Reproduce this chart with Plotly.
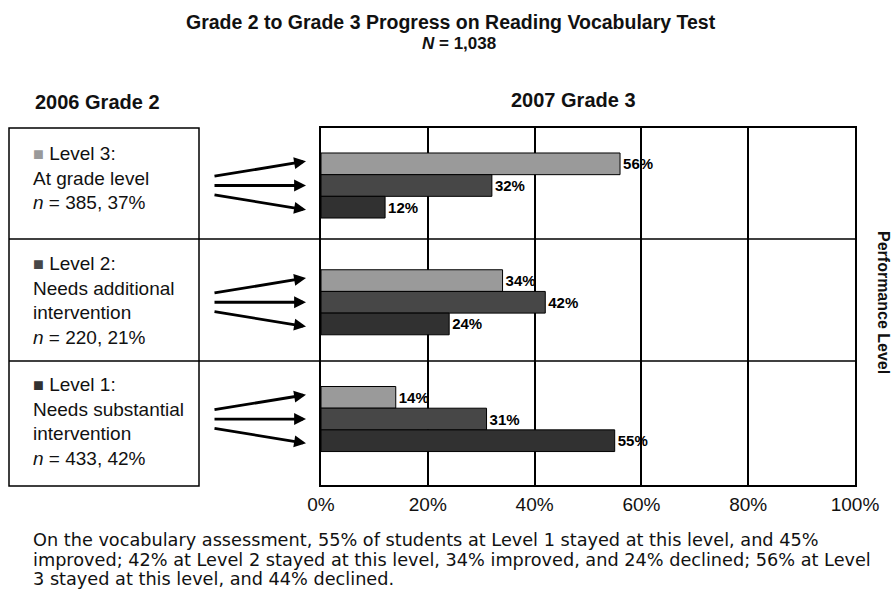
import plotly.graph_objects as go

# ---------------- data ----------------
origin_levels = ["Level 3", "Level 2", "Level 1"]          # 2006 Grade 2 level
dest_names = ["Level 3", "Level 2", "Level 1"]            # 2007 Grade 3 level
to_level3 = [56, 34, 14]
to_level2 = [32, 42, 31]
to_level1 = [12, 24, 55]
dest_values = [to_level3, to_level2, to_level1]

box_titles = ["Level 3:", "Level 2:", "Level 1:"]
box_desc = [["At grade level"], ["Needs additional", "intervention"], ["Needs substantial", "intervention"]]
box_counts = ["385, 37%", "220, 21%", "433, 42%"]

x_ticks = [0, 20, 40, 60, 80, 100]
x_tick_labels = ["0%", "20%", "40%", "60%", "80%", "100%"]

title_text = "Grade 2 to Grade 3 Progress on Reading Vocabulary Test"
subtitle_text = "<i>N</i> = 1,038"
left_header = "2006 Grade 2"
right_header = "2007 Grade 3"
side_label = "Performance Level"
caption_lines = [
    "On the vocabulary assessment, 55% of students at Level 1 stayed at this level, and 45%",
    "improved; 42% at Level 2 stayed at this level, 34% improved, and 24% declined; 56% at Level",
    "3 stayed at this level, and 44% declined.",
]

# ---------------- style ----------------
colors = ["#9a9a9a", "#474747", "#313131"]
FONT = "Liberation Sans, Arial, sans-serif"
CAP_FONT = "DejaVu Sans, Liberation Sans, sans-serif"
W, H = 895, 606
ML, MR, MT, MB = 321, 40, 128, 121
BARGAP = 0.443
Y_RANGE = [2.565, -0.4925]
PX_PER_UNIT = (H - MT - MB) / (Y_RANGE[0] - Y_RANGE[1])

def px_x(p):
    return (p - ML) / (W - ML - MR)

def px_y(p):
    return (H - MB - p) / (H - MT - MB)

fig = go.Figure()
for name, vals, col in zip(dest_names, dest_values, colors):
    fig.add_trace(go.Bar(
        y=origin_levels, x=vals, orientation="h", name=name,
        marker=dict(color=col, line=dict(color="black", width=1)),
        texttemplate="<b>%{x}%</b>", textposition="outside",
        textfont=dict(family=FONT, size=15, color="black"),
        cliponaxis=False,
    ))

# arrows from the left boxes to each bar
w = (1 - BARGAP) / 3
for i in range(len(origin_levels)):
    for j in range(len(dest_names)):
        fig.add_annotation(
            x=px_x(306), y=i + (j - 1) * w * 1.12, xref="paper", yref="y",
            ax=213 - 306, ay=(1 - j) * 0.7 * w * PX_PER_UNIT, axref="pixel", ayref="pixel",
            text="", showarrow=True, arrowhead=2, arrowsize=0.85,
            arrowwidth=2.8, arrowcolor="black",
        )

# left boxes
shapes = [
    dict(type="rect", xref="paper", yref="paper", x0=px_x(9), x1=px_x(199),
         y0=px_y(486), y1=px_y(128), line=dict(color="black", width=1.5)),
]
for yp in (239, 361):
    shapes.append(dict(type="line", xref="paper", yref="paper", x0=px_x(9), x1=1,
                       y0=px_y(yp), y1=px_y(yp), line=dict(color="black", width=1.5)))

box_centers = [177.5, 300, 421.5]
for k in range(3):
    lines = [f'<span style="color:{colors[k]};font-size:18px">■</span> {box_titles[k]}']
    lines += box_desc[k]
    lines += [f"<i>n</i> = {box_counts[k]}"]
    fig.add_annotation(
        xref="paper", yref="paper", x=px_x(31), y=px_y(box_centers[k]),
        xanchor="left", yanchor="middle", align="left", showarrow=False,
        text="<br>".join(lines), font=dict(family=FONT, size=19, color="#111"),
    )

# titles and headers
fig.add_annotation(xref="paper", yref="paper", x=px_x(451), y=px_y(22), text=f"<b>{title_text}</b>",
                   showarrow=False, xanchor="center", yanchor="middle",
                   font=dict(family=FONT, size=19.5, color="#111"))
fig.add_annotation(xref="paper", yref="paper", x=px_x(459), y=px_y(44), text=f"<b>{subtitle_text}</b>",
                   showarrow=False, xanchor="center", yanchor="middle",
                   font=dict(family=FONT, size=17, color="#111"))
fig.add_annotation(xref="paper", yref="paper", x=px_x(33), y=px_y(102), text=f"<b>{left_header}</b>",
                   showarrow=False, xanchor="left", yanchor="middle",
                   font=dict(family=FONT, size=20, color="#111"))
fig.add_annotation(xref="paper", yref="paper", x=px_x(573), y=px_y(100), text=f"<b>{right_header}</b>",
                   showarrow=False, xanchor="center", yanchor="middle",
                   font=dict(family=FONT, size=20, color="#111"))
fig.add_annotation(xref="paper", yref="paper", x=px_x(884), y=px_y(302), text=f"<b>{side_label}</b>",
                   showarrow=False, xanchor="center", yanchor="middle", textangle=90,
                   font=dict(family=FONT, size=16, color="#111"))
for line, yp in zip(caption_lines, (540, 560, 579)):
    fig.add_annotation(xref="paper", yref="paper", x=px_x(31), y=px_y(yp), text=line,
                       showarrow=False, xanchor="left", yanchor="middle",
                       font=dict(family=CAP_FONT, size=17.7, color="#111"))

fig.update_layout(
    width=W, height=H, margin=dict(l=ML, r=MR, t=MT, b=MB),
    paper_bgcolor="white", plot_bgcolor="white",
    barmode="group", bargap=BARGAP, bargroupgap=0,
    showlegend=False, shapes=shapes,
    xaxis=dict(range=[0, 100], tickvals=x_ticks, ticktext=x_tick_labels,
               showgrid=True, gridcolor="black", gridwidth=1.5,
               showline=True, linecolor="black", linewidth=1.5, mirror=True,
               zeroline=False, ticks="", ticklabelstandoff=1,
               tickfont=dict(family=FONT, size=19, color="#111")),
    yaxis=dict(type="category", categoryarray=origin_levels, categoryorder="array",
               range=Y_RANGE, showticklabels=False, showgrid=False,
               showline=True, linecolor="black", linewidth=1.5, mirror=True,
               zeroline=False, ticks=""),
)

fig.write_html("out.html", config={"displayModeBar": False},
               post_script="document.body.style.margin='0';")
